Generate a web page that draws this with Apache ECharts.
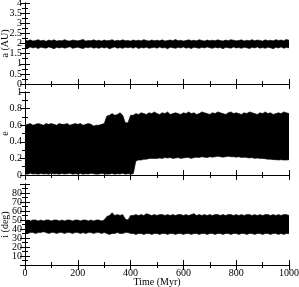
<!DOCTYPE html>
<html><head><meta charset="utf-8">
<script src="https://cdn.jsdelivr.net/npm/echarts@6/dist/echarts.min.js"></script>
<style>html,body{margin:0;padding:0;background:#fff}#c{width:299px;height:287px}</style>
</head><body><div id="c"></div>
<script>
const time = [0,10,20,30,40,50,60,70,80,90,100,110,120,130,140,150,160,170,180,190,200,210,220,230,240,250,260,270,280,290,300,310,320,330,340,350,360,370,380,390,400,410,420,430,440,450,460,470,480,490,500,510,520,530,540,550,560,570,580,590,600,610,620,630,640,650,660,670,680,690,700,710,720,730,740,750,760,770,780,790,800,810,820,830,840,850,860,870,880,890,900,910,920,930,940,950,960,970,980,990,1000];
const aHi = [2.16,2.13,2.18,2.12,2.15,2.19,2.13,2.16,2.11,2.17,
2.14,2.18,2.12,2.15,2.13,2.19,2.14,2.12,2.17,2.15,
2.13,2.16,2.2,2.12,2.15,2.14,2.18,2.13,2.16,2.12,
2.17,2.14,2.15,2.19,2.12,2.16,2.13,2.18,2.14,2.15,
2.12,2.17,2.14,2.16,2.13,2.19,2.15,2.12,2.17,2.14,
2.16,2.13,2.18,2.12,2.15,2.17,2.14,2.2,2.13,2.16,
2.12,2.15,2.18,2.14,2.16,2.13,2.19,2.15,2.12,2.17,
2.14,2.16,2.13,2.18,2.15,2.12,2.17,2.14,2.19,2.16,
2.13,2.15,2.18,2.12,2.16,2.14,2.19,2.13,2.17,2.15,
2.12,2.18,2.14,2.16,2.13,2.19,2.15,2.17,2.14,2.2,2.16];
const aLo = [1.8,1.76,1.83,1.78,1.81,1.75,1.82,1.79,1.77,1.83,
1.79,1.74,1.81,1.78,1.82,1.77,1.8,1.84,1.76,1.79,
1.82,1.78,1.75,1.81,1.79,1.83,1.77,1.8,1.76,1.82,
1.78,1.81,1.74,1.79,1.83,1.77,1.8,1.76,1.82,1.79,
1.81,1.77,1.83,1.75,1.8,1.78,1.82,1.76,1.79,1.81,
1.77,1.83,1.78,1.8,1.74,1.82,1.79,1.76,1.81,1.78,
1.83,1.77,1.8,1.75,1.82,1.79,1.76,1.81,1.78,1.83,
1.79,1.76,1.82,1.78,1.8,1.74,1.81,1.79,1.77,1.83,
1.78,1.8,1.76,1.82,1.79,1.75,1.81,1.78,1.83,1.77,
1.8,1.76,1.82,1.79,1.74,1.81,1.78,1.83,1.77,1.8,1.79];
const eHi = [0.60,0.61,0.62,0.60,0.61,0.62,0.61,0.60,0.62,0.61,
0.62,0.61,0.60,0.62,0.61,0.61,0.62,0.60,0.61,0.62,
0.61,0.62,0.60,0.61,0.62,0.61,0.59,0.60,0.60,0.61,
0.62,0.71,0.72,0.74,0.72,0.73,0.75,0.72,0.63,0.63,
0.72,0.72,0.74,0.73,0.75,0.74,0.73,0.75,0.74,0.76,
0.74,0.73,0.75,0.74,0.76,0.73,0.74,0.75,0.74,0.73,
0.75,0.74,0.76,0.74,0.75,0.73,0.74,0.76,0.75,0.74,
0.73,0.75,0.74,0.76,0.75,0.74,0.73,0.75,0.76,0.74,
0.75,0.74,0.73,0.75,0.74,0.76,0.75,0.74,0.73,0.75,
0.74,0.76,0.74,0.75,0.73,0.74,0.75,0.74,0.76,0.75,0.74];
const eLo = [0.015,0.01,0.02,0.012,0.015,0.01,0.018,0.012,0.015,0.01,
0.02,0.012,0.015,0.01,0.018,0.012,0.015,0.02,0.01,0.015,
0.012,0.018,0.01,0.015,0.012,0.02,0.015,0.01,0.012,0.018,
0.015,0.01,0.012,0.018,0.01,0.015,0.012,0.02,0.01,0.015,
0.012,0.015,0.17,0.18,0.18,0.19,0.19,0.2,0.2,0.2,
0.2,0.205,0.2,0.21,0.205,0.21,0.2,0.205,0.21,0.2,
0.205,0.21,0.21,0.2,0.21,0.215,0.21,0.22,0.215,0.21,
0.22,0.215,0.22,0.225,0.22,0.215,0.22,0.225,0.22,0.22,
0.215,0.22,0.21,0.215,0.21,0.205,0.21,0.2,0.205,0.2,
0.2,0.195,0.19,0.19,0.185,0.185,0.18,0.185,0.18,0.18,0.185];
const iHi = [49,50,49,50,50,49,50,49,50,50,
49,50,50,49,50,49,50,50,49,50,
50,49,50,50,49,50,49,50,50,49,
50,54,55,58,55,56,55,56,51,50,
55,55,56,55,56,55,57,56,55,56,
55,56,56,55,56,55,56,55,56,56,
55,56,55,56,57,55,56,55,56,55,
56,55,56,56,55,56,55,56,56,55,
56,55,56,55,56,56,55,56,55,56,
55,56,56,55,56,55,56,55,56,56,55];
const iLo = [36,35,36,36,35,36,36,37,36,35,
36,36,35,36,36,35,36,36,35,36,
36,35,36,35,36,36,35,36,36,35,
36,35,34,35,35,36,35,35,36,36,
35,35,34,35,35,34,35,35,34,35,
35,34,35,35,34,35,35,34,35,35,
34,35,35,34,35,35,34,35,35,34,
35,35,34,35,35,34,35,35,34,35,
35,34,35,35,34,35,35,34,35,35,
34,35,35,34,35,35,34,35,34,35,35];

const FONT = 'Liberation Serif';
const chart = echarts.init(document.getElementById('c'));
const gbase = {left:25,right:10,containLabel:false,outerBoundsMode:'none'};
const grids = [
  Object.assign({top:3,height:81},gbase),
  Object.assign({top:92,height:83},gbase),
  Object.assign({top:184,height:81},gbase)
];
const yDefs = [
  {min:0,max:4,interval:0.5,name:'a (AU)'},
  {min:0,max:1,interval:0.2,name:'e'},
  {min:0,max:90,interval:10,name:'i (deg)'}
];
const lineC = '#000';
const fmt = v => String(v);
const xAxes=[], yAxes=[], series=[];
grids.forEach((g,k)=>{
  const base = {type:'value',min:0,max:1000,interval:200,gridIndex:k,
    axisLine:{show:true,lineStyle:{color:lineC,width:1}},
    axisTick:{show:true,inside:true,length:5,lineStyle:{color:lineC}},
    minorTick:{show:true,splitNumber:2,length:3,lineStyle:{color:lineC}},
    splitLine:{show:false},minorSplitLine:{show:false}};
  xAxes.push(Object.assign({},base,{position:'bottom',
    axisLabel:{show:k===2,color:'#000',fontFamily:FONT,fontSize:10,margin:3,formatter:fmt},
    name:k===2?'Time (Myr)':'',nameLocation:'middle',nameGap:12,nameMoveOverlap:false,
    nameTextStyle:{color:'#000',fontFamily:FONT,fontSize:10}}));
  xAxes.push(Object.assign({},base,{position:'top',axisLabel:{show:false}}));
  const yd = yDefs[k];
  const ybase = {type:'value',min:yd.min,max:yd.max,interval:yd.interval,gridIndex:k,
    axisLine:{show:true,lineStyle:{color:lineC,width:1}},
    axisTick:{show:true,inside:true,length:5,lineStyle:{color:lineC}},
    minorTick:{show:true,splitNumber:2,length:3,lineStyle:{color:lineC}},
    splitLine:{show:false},minorSplitLine:{show:false}};
  yAxes.push(Object.assign({},ybase,{position:'left',
    axisLabel:{color:'#000',fontFamily:FONT,fontSize:10,margin:3,formatter:fmt},
    name:yd.name,nameLocation:'middle',nameGap:15,nameRotate:90,nameMoveOverlap:false,
    nameTextStyle:{color:'#000',fontFamily:FONT,fontSize:10}}));
  yAxes.push(Object.assign({},ybase,{position:'right',axisLabel:{show:false}}));
});
const bands = [[aLo,aHi],[eLo,eHi],[iLo,iHi]];
bands.forEach((b,k)=>{
  const lo=b[0], hi=b[1];
  const data = time.map((t,j)=>[t,lo[j],hi[j]]);
  series.push({type:'custom',xAxisIndex:2*k,yAxisIndex:2*k,silent:true,clip:true,
    data:data,
    renderItem:function(params,api){
      if(params.dataIndex!==0) return null;
      const pts=[];
      for(let j=0;j<data.length;j++) pts.push(api.coord([data[j][0],data[j][1]]));
      for(let j=data.length-1;j>=0;j--) pts.push(api.coord([data[j][0],data[j][2]]));
      return {type:'polygon',shape:{points:pts},
        style:{fill:'#000',stroke:'#000',lineWidth:0.6}};
    }});
});
chart.setOption({animation:false,grid:grids,xAxis:xAxes,yAxis:yAxes,series:series});
</script></body></html>
